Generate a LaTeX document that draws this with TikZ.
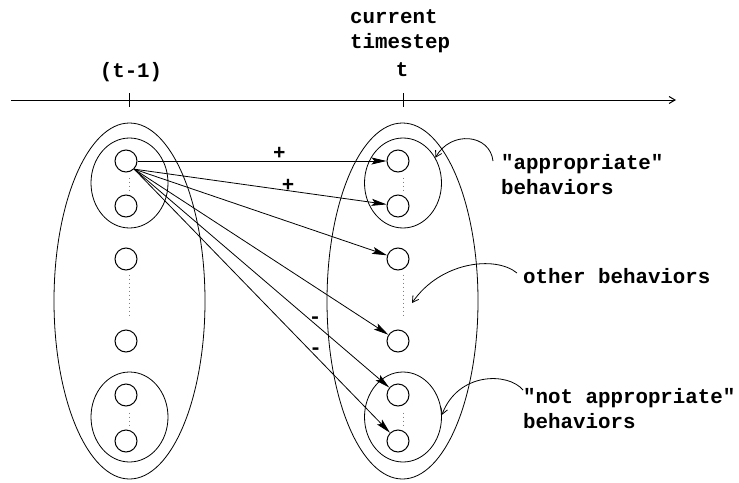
\documentclass[tikz,border=0pt]{standalone}
\usepackage{fontspec}
\setmonofont{Liberation Mono}
\usetikzlibrary{arrows.meta,shapes.geometric}

\begin{document}
\begin{tikzpicture}[x=1pt,y=-1pt,
    every node/.style={font=\ttfamily\bfseries\fontsize{20.8}{25}\selectfont, inner sep=0pt},
    beh/.style={draw, circle, minimum size=22pt, line width=1pt},
    grp/.style={draw, ellipse, line width=0.8pt},
    act/.style={-{Stealth[length=15pt,width=7pt,inset=3pt]}, line width=0.8pt},
    hint/.style={-{Straight Barb[length=6pt,width=7pt]}, line width=0.8pt},
    gap/.style={dash pattern=on 0.8pt off 3.2pt, line width=0.8pt, gray}]
  \useasboundingbox (0,0) rectangle (739,482);

  % time axis
  \node (tprev) at (131,72) {(t-1)};
  \node (tnow) at (402,70) {t};
  \node[align=left, anchor=west] (cur) at (350,31) {current\\timestep};
  \coordinate (ax0) at (11,100);
  \coordinate (ax1) at (676,100);
  \draw[hint, line width=1pt] (ax0) -- (ax1);
  \foreach \t in {129.5,403}
    \draw[line width=0.8pt] (\t,93) -- (\t,107);

  % behaviors at (t-1) and t
  \foreach \n/\y in {1/161,2/206,3/259,4/341,5/395,6/441} {
    \node[beh] (l\n) at (126,\y) {};
    \node[beh] (r\n) at (398,\y) {};
  }

  % groups
  \node[grp, minimum width=151pt, minimum height=356pt] (prevall) at (129.5,301) {};
  \node[grp, minimum width=77pt, minimum height=90pt] (goodprev) at (129.5,183) {};
  \node[grp, minimum width=77pt, minimum height=90pt] (badprev) at (129.5,417) {};
  \node[grp, minimum width=151pt, minimum height=356pt] (nowall) at (402.5,301) {};
  \node[grp, minimum width=77pt, minimum height=90pt] (goodnow) at (403,183) {};
  \node[grp, minimum width=77pt, minimum height=90pt] (badnow) at (403,417) {};

  % omitted behaviors
  \foreach \s/\dx in {l/3.5,r/5} {
    \draw[gap] ([xshift=\dx,yshift=-5]\s1.south) -- ([xshift=\dx,yshift=3]\s2.north);
    \draw[gap] ([xshift=\dx,yshift=-4]\s3.south) -- ([xshift=\dx,yshift=12]\s4.north);
    \draw[gap] ([xshift=\dx,yshift=-6]\s5.south) -- ([xshift=\dx,yshift=4]\s6.north);
  }

  % links from one behavior at (t-1)
  \draw[act] (l1) -- node[pos=0.57, above=1pt] (plus1) {+} (r1);
  \draw[act] (l1.-45) -- node[pos=0.61, above=-1pt] (plus2) {+} (r2);
  \foreach \to in {r3,r4}
    \draw[act] (l1.-45) -- (\to);
  \draw[act] (l1.-45) -- node[pos=0.683, anchor=west, yshift=-2pt] (minus1) {-} (r5);
  \draw[act] (l1.-45) -- node[pos=0.683, anchor=west, yshift=-2pt] (minus2) {-} (r6);

  % notes
  \node[align=left, anchor=west] (appr) at (501,175) {"appropriate"\\behaviors};
  \node[anchor=west] (other) at (523,276) {other behaviors};
  \node[align=left, anchor=west] (notappr) at (523,409) {"not appropriate"\\behaviors};

  \coordinate (apprtail) at (493,161);
  \coordinate (othertail) at (517,273);
  \coordinate (notapprtail) at (523,390);
  \coordinate (othergap) at (412,303);
  \draw[hint] (apprtail) .. controls (490,134) and (451,130) .. (goodnow.38);
  \draw[hint] (othertail) .. controls (495,255) and (440,262) .. (othergap);
  \draw[hint] (notapprtail) .. controls (508,372) and (458,372) .. (badnow.3);
\end{tikzpicture}
\end{document}
